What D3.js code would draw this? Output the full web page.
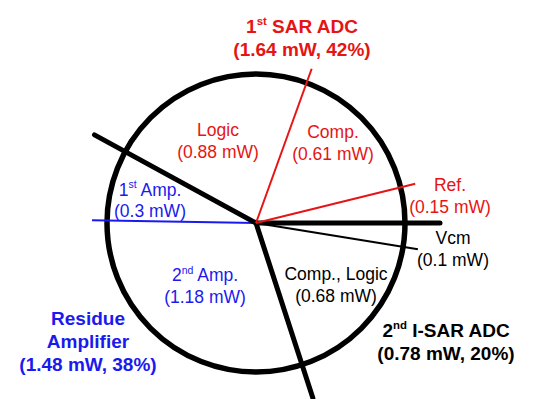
<html>
  <head>
    <meta charset="utf-8">
    <title>Power breakdown</title>
    <script src="https://cdnjs.cloudflare.com/ajax/libs/d3/7.8.5/d3.min.js"></script>
    <style>
      body { margin: 0; background: #fff; }
      text { font-family: "Liberation Sans", Arial, sans-serif; }
    </style>
  </head>
  <body>
    <div id="chart"></div>
<script>
  // slices clockwise, starting from the horizontal line on the right
  const slices = ["Vcm", "Comp., Logic", "2^nd Amp.", "1^st Amp.", "Logic", "Comp.", "Ref."];
  const power = [0.1, 0.68, 1.18, 0.3, 0.88, 0.61, 0.15];   // mW
  const sliceGroup = [2, 2, 1, 1, 0, 0, 0];

  const groupNames = ["1^st SAR ADC", "Residue|Amplifier", "2^nd I-SAR ADC"];
  const groupPower = [1.64, 1.48, 0.78];   // mW
  const groupShare = [42, 38, 20];         // %

  const groupColor = ["#e61414", "#1a1aee", "#000"];

  const W = 550, H = 399;
  const cx = 256, cy = 223, R = 149;

  const svg = d3.select('#chart')
    .append('svg')
    .attr('width', W)
    .attr('height', H);

  const pie = d3.pie()
    .sort(null)
    .value(d => d)
    .startAngle(Math.PI / 2)
    .endAngle(Math.PI / 2 + 2 * Math.PI);

  const arcs = pie(power);

  const g = svg.append('g').attr('transform', `translate(${cx},${cy})`);

  // outer circle
  g.append('circle')
    .attr('r', R)
    .attr('fill', 'none')
    .attr('stroke', '#000')
    .attr('stroke-width', 5.5);

  // a divider at the start of every slice; thick black between groups
  const dividers = arcs.map((a, i) => {
    const prev = (i + slices.length - 1) % slices.length;
    const major = sliceGroup[prev] !== sliceGroup[i];
    return { angle: a.startAngle, major, color: major ? '#000' : groupColor[sliceGroup[i]] };
  });

  g.selectAll('line.div')
    .data(dividers)
    .join('line')
    .attr('class', 'div')
    .attr('x1', 0).attr('y1', 0)
    .attr('x2', d => d3.pointRadial(d.angle, d.major ? 184 : 164)[0])
    .attr('y2', d => d3.pointRadial(d.angle, d.major ? 184 : 164)[1])
    .attr('stroke', d => d.color)
    .attr('stroke-width', d => d.major ? 5 : 2)
    .attr('stroke-linecap', d => d.major ? 'round' : 'butt');

  // write "1^st Amp." with a superscript
  function addLine(text, str, x, y, size) {
    const t = text.append('tspan').attr('x', x).attr('y', y);
    const m = str.match(/^(.*?)\^([a-z]+)(.*)$/);
    if (!m) { t.text(str); return; }
    t.text(m[1]);
    text.append('tspan').text(m[2])
      .attr('font-size', size * 0.6)
      .attr('dy', -size * 0.42);
    text.append('tspan').text(m[3])
      .attr('dy', size * 0.42);
  }

  function label(x, y, lines, color, size, bold, gap) {
    const text = svg.append('text')
      .attr('text-anchor', 'middle')
      .attr('fill', color)
      .attr('font-size', size)
      .attr('font-weight', bold ? 'bold' : 'normal');
    lines.forEach((l, i) => addLine(text, l, x, y + i * gap, size));
  }

  // where the slice labels sit: x, first baseline, line gap
  const slicePos = [[453, 244, 21.5], [336, 280, 21.5], [205, 281, 21.5], [150, 195.5, 21],
                    [218, 136, 21.5], [333, 138, 21.5], [450, 191, 21.5]];
  slices.forEach((s, i) => {
    const [x, y, gap] = slicePos[i];
    label(x, y, [s, `(${power[i]} mW)`], groupColor[sliceGroup[i]], 17.5, false, gap);
  });

  // group titles
  const groupPos = [[302, 33], [88, 325], [446, 337]];
  groupNames.forEach((n, i) => {
    const lines = n.split('|').concat([`(${groupPower[i]} mW, ${groupShare[i]}%)`]);
    label(groupPos[i][0], groupPos[i][1], lines, groupColor[i], 19, true, 23);
  });
</script>
  </body>
</html>
